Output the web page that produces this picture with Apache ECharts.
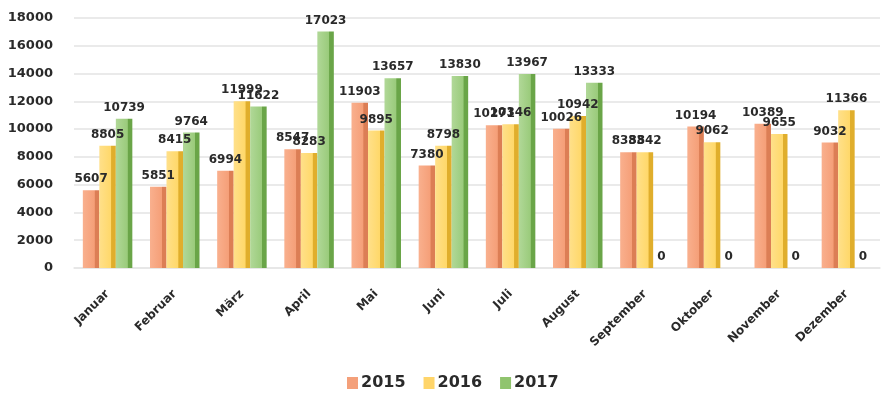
<!DOCTYPE html>
<html><head><meta charset="utf-8">
<script src="https://cdn.jsdelivr.net/npm/echarts@6/dist/echarts.min.js"></script>
<style>html,body{margin:0;padding:0;background:#fff}#c{width:889px;height:400px}</style>
</head><body><div id="c"></div>
<script>
var categories = ['Januar','Februar','März','April','Mai','Juni','Juli','August','September','Oktober','November','Dezember'];
var values2015 = [5607,5851,6994,8547,11903,7380,10271,10026,8338,10194,10389,9032];
var values2016 = [8805,8415,11999,8283,9895,8798,10346,10942,8342,9062,9655,11366];
var values2017 = [10739,9764,11622,17023,13657,13830,13967,13333,0,0,0,0];
var seriesNames = ['2015','2016','2017'];

function grad(light, mid, dark){
  return new echarts.graphic.LinearGradient(0,0,1,0,[
    {offset:0,color:light},{offset:0.7,color:mid},{offset:0.74,color:dark},{offset:1,color:dark}
  ]);
}
var colors = [
  {fill:grad('#F9B08E','#F59F78','#DC7E55'), legend:'#F4A07A'},
  {fill:grad('#FFE08A','#FFD86A','#E0AE2C'), legend:'#FFD56A'},
  {fill:grad('#B1D898','#9ACB7B','#6AA548'), legend:'#90C46E'}
];
var data = [values2015, values2016, values2017];
var chart = echarts.init(document.getElementById('c'));
var font = 'DejaVu Sans, Verdana, sans-serif';
var labelStyle = {show:true, position:'top', distance:5, color:'#2a2a2a', fontSize:12, fontWeight:'bold', fontFamily:font};
chart.setOption({
  animation:false,
  grid:{left:74, right:9, top:18, bottom:132},
  legend:{
    bottom:4, left:342, itemWidth:11, itemHeight:12, itemGap:18,
    textStyle:{fontSize:16, color:'#2a2a2a', fontFamily:font, fontWeight:'bold', padding:[0,0,0,-2]},
    data: seriesNames.map(function(n,i){return {name:n, icon:'rect', itemStyle:{color:colors[i].legend}};})
  },
  xAxis:{
    type:'category', data:categories,
    axisLine:{show:true, lineStyle:{color:'#E6E6E6', width:1.5}}, axisTick:{show:false},
    axisLabel:{rotate:45, color:'#2a2a2a', fontSize:12, fontWeight:'bold', fontFamily:font, margin:24, interval:0}
  },
  yAxis:{
    type:'value', min:0, max:18000, interval:2000,
    axisLine:{show:false}, axisTick:{show:false},
    splitLine:{lineStyle:{color:'#E3E3E3', width:1.5}},
    axisLabel:{color:'#2a2a2a', fontSize:13, fontWeight:'bold', fontFamily:font, margin:21, formatter:function(v){return String(v);}}
  },
  series: seriesNames.map(function(n,i){
    return {
      name:n, type:'bar', data:data[i], barWidth:16.5, barGap:'0%',
      itemStyle:{color:colors[i].fill},
      label:labelStyle
    };
  })
});
</script></body></html>
